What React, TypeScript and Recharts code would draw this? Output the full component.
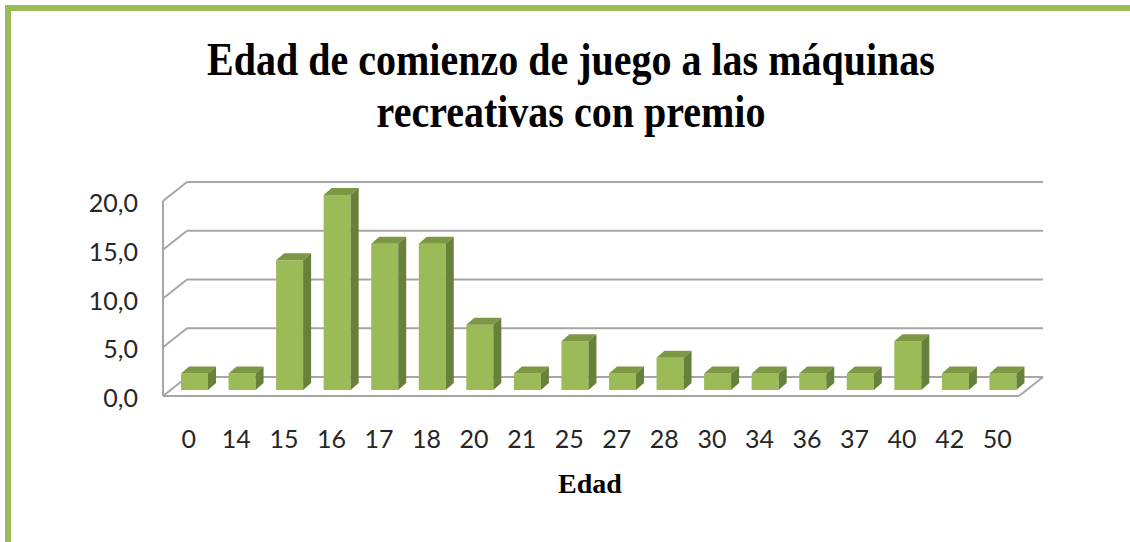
import React from "react";
import { BarChart, Bar, XAxis, YAxis, CartesianGrid } from "recharts";

if (typeof document !== "undefined") document.body.style.margin = "0";

const edades = ["0", "14", "15", "16", "17", "18", "20", "21", "25", "27", "28", "30", "34", "36", "37", "40", "42", "50"];
const porcentajes = [1.7, 1.7, 13.3, 20.0, 15.0, 15.0, 6.7, 1.7, 5.0, 1.7, 3.3, 1.7, 1.7, 1.7, 1.7, 5.0, 1.7, 1.7];
const yTicks = [0, 5, 10, 15, 20];

const data = edades.map((edad, i) => ({ edad, valor: porcentajes[i] }));

const GREEN = "#9bbb59";
const GRID = "#a6a6a6";
// depth offsets of the 3D box, relative to the plane of the bar fronts
const BACK = { dx: 16, dy: -13 };
const FRONT = { dx: -8, dy: 6 };

const Bar3D = (props: any) => {
  const { x, y, width: w, height: h } = props;
  if (h == null || w == null) return null;
  const dx = 8;
  const dy = -7;
  return (
    <g>
      <rect x={x} y={y} width={w} height={h} fill={GREEN} />
      <polygon
        points={`${x},${y} ${x + dx},${y + dy} ${x + w + dx},${y + dy} ${x + w},${y}`}
        fill="#7c9844"
      />
      <polygon
        points={`${x + w},${y} ${x + w + dx},${y + dy} ${x + w + dx},${y + h + dy} ${x + w},${y + h}`}
        fill="#68813a"
      />
    </g>
  );
};

const GridLine = (props: any) => {
  const { x1, x2, y1, index } = props;
  const y = y1;
  const bottom = props.y + props.height;
  const isFloor = Math.abs(y - bottom) < 1;
  const sw = 2;
  return (
    <g key={`g-${index}`}>
      <line x1={x1 + BACK.dx} y1={y + BACK.dy} x2={x2 + BACK.dx} y2={y + BACK.dy} stroke={GRID} strokeWidth={sw} />
      <line x1={x1 + FRONT.dx} y1={y + FRONT.dy} x2={x1 + BACK.dx} y2={y + BACK.dy} stroke={GRID} strokeWidth={sw} />
      {isFloor && (
        <>
          <line x1={x1 + FRONT.dx} y1={y + FRONT.dy} x2={x2 + FRONT.dx} y2={y + FRONT.dy} stroke={GRID} strokeWidth={sw} />
          <line x1={x2 + FRONT.dx} y1={y + FRONT.dy} x2={x2 + BACK.dx} y2={y + BACK.dy} stroke={GRID} strokeWidth={sw} />
          <line x1={x1 + FRONT.dx} y1={props.y + FRONT.dy} x2={x1 + FRONT.dx} y2={y + FRONT.dy} stroke={GRID} strokeWidth={sw} />
        </>
      )}
    </g>
  );
};

const YTick = (props: any) => {
  const { x, y, payload } = props;
  return (
    <text x={x - 25} y={y + 7} textAnchor="end" dominantBaseline="central" fill="#262626" fontSize={25} fontFamily="Lato, sans-serif">
      {Number(payload.value).toFixed(1).replace(".", ",")}
    </text>
  );
};

const XTick = (props: any) => {
  const { x, y, payload } = props;
  return (
    <text x={x - 6} y={y + 40} textAnchor="middle" dominantBaseline="central" fill="#262626" fontSize={25} fontFamily="Lato, sans-serif">
      {payload.value}
    </text>
  );
};

export default function App() {
  return (
    <div style={{ position: "relative", width: 1130, height: 542, background: "#fff", overflow: "hidden" }}>
      <div style={{ position: "absolute", left: 5, top: 5, width: 1125, height: 6, background: GREEN }} />
      <div style={{ position: "absolute", left: 5, top: 5, width: 6, height: 537, background: GREEN }} />
      <div
        style={{
          position: "absolute",
          left: 0,
          width: 1142,
          top: 34,
          textAlign: "center",
          fontFamily: "'Liberation Serif', serif",
          fontWeight: "bold",
          fontSize: 40,
          lineHeight: "44px",
          color: "#000",
          transform: "scaleY(1.18)",
          transformOrigin: "top",
        }}
      >
        Edad de comienzo de juego a las máquinas
        <br />
        recreativas con premio
      </div>
      <div
        style={{
          position: "absolute",
          left: 0,
          width: 1180,
          top: 468,
          textAlign: "center",
          fontFamily: "'Liberation Serif', serif",
          fontWeight: "bold",
          fontSize: 28,
          color: "#000",
        }}
      >
        Edad
      </div>
      <div style={{ position: "absolute", left: 0, top: 0 }}>
        <BarChart
          width={1130}
          height={542}
          data={data}
          margin={{ top: 195, right: 103, bottom: 92, left: 111 }}
          barSize={27}
        >
          <CartesianGrid vertical={false} horizontal={GridLine} />
          <XAxis dataKey="edad" axisLine={false} tickLine={false} height={60} tick={XTick} interval={0} />
          <YAxis domain={[0, 20]} ticks={yTicks} axisLine={false} tickLine={false} width={60} tick={YTick} />
          <Bar dataKey="valor" shape={Bar3D} isAnimationActive={false} />
        </BarChart>
      </div>
    </div>
  );
}
